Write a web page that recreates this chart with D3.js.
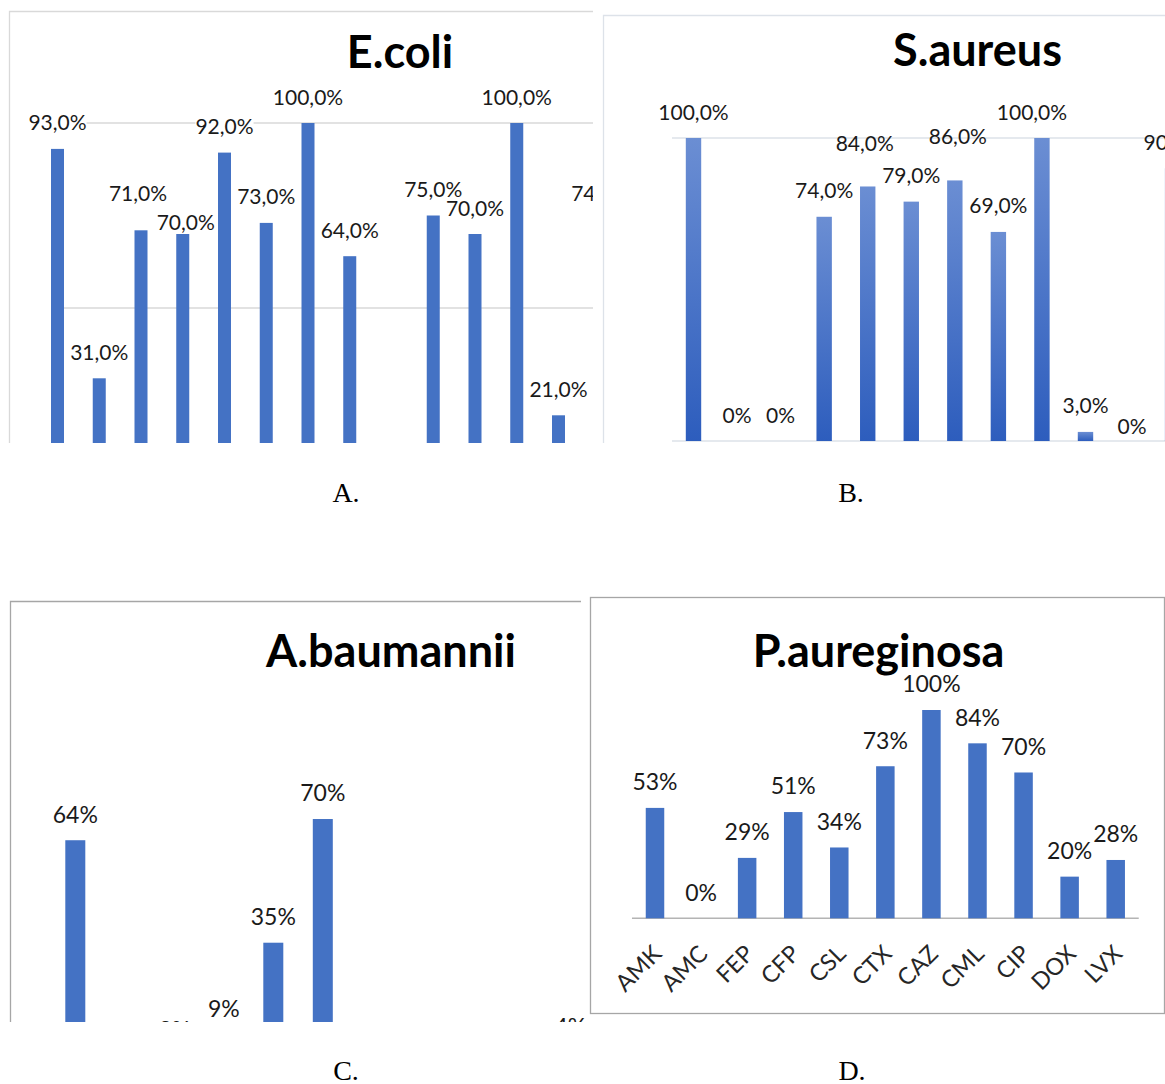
<!DOCTYPE html>
<html><head><meta charset="utf-8">
<script src="https://cdn.jsdelivr.net/npm/d3@7"></script>
<style>body{margin:0;background:#fff} svg{display:block}</style>
</head><body>
<svg id="c" width="1165" height="1084"></svg>
<script>
// ---- data ----
const ecoliCategories = ["c1","c2","c3","c4","c5","c6","c7","c8","c9","c10","c11","c12","c13","c14"];
const ecoliValues = [93,31,71,70,92,73,100,64,null,75,70,100,21,74];
const saureusCategories = ["c1","c2","c3","c4","c5","c6","c7","c8","c9","c10","c11","c12"];
const saureusValues = [100,0,0,74,84,79,86,69,100,3,0,90];
const antibiotics = ["AMK","AMC","FEP","CFP","CSL","CTX","CAZ","CML","CIP","DOX","LVX"];
const abaumanniiValues = [64,0,3,9,35,70,0,0,0,0,4];
const paeruginosaValues = [53,0,29,51,34,73,100,84,70,20,28];
const gridTicksA = [0,50,100];
const gridTicksB = [0,100];
const titles = ["E.coli","S.aureus","A.baumannii","P.aureginosa"];
const panelLetters = ["A.","B.","C.","D."];
// label nudges (layout only): [dx, dy]
const nudgeA = {2:[-3,-11], 3:[3,14]};
const nudgeB = {4:[-3,-17], 6:[3,-18], 8:[-10,0], 10:[3,11]};

const svg = d3.select("#c");
svg.append("rect").attr("width",1165).attr("height",1084).attr("fill","#fff");
const defs = svg.append("defs");
const grad = defs.append("linearGradient").attr("id","gB").attr("x1",0).attr("y1",0).attr("x2",0).attr("y2",1);
grad.append("stop").attr("offset","0%").attr("stop-color","#6b8ed3");
grad.append("stop").attr("offset","100%").attr("stop-color","#2d5dbd");
function clip(id,x,y,w,h){defs.append("clipPath").attr("id",id).append("rect").attr("x",x).attr("y",y).attr("width",w).attr("height",h);}

const FONT = "Lato, 'Open Sans', sans-serif";
const fmtComma = v => v === 0 ? "0%" : v.toFixed(1).replace(".", ",") + "%";
const fmtInt = v => v + "%";

function drawPanel(o){
  const g = svg.append("g");
  if (o.clipId) g.attr("clip-path", `url(#${o.clipId})`);
  if (o.framePath) g.append("path").attr("d", o.framePath).attr("fill","none").attr("stroke",o.frameColor).attr("stroke-width",1.3);
  (o.grid||[]).forEach(t=>{
    g.append("line").attr("x1",o.gridX0).attr("x2",o.gridX1).attr("y1",o.y(t)).attr("y2",o.y(t))
      .attr("stroke",o.gridColor).attr("stroke-width",1.5);
  });
  g.append("text").attr("x",o.titleX).attr("y",o.titleY).attr("text-anchor","middle")
    .attr("font-family",FONT).attr("font-weight",700).attr("font-size",45).attr("fill","#000").text(o.title);
  const data = o.cats.map((c,i)=>({c, v:o.values[i], i})).filter(d=>d.v!==null);
  g.selectAll("rect.bar").data(data.filter(d=>d.v>0)).join("rect").attr("class","bar")
    .attr("x",d=>o.x(d.c)-o.bw/2).attr("width",o.bw)
    .attr("y",d=>o.y(d.v)).attr("height",d=>o.y(0)-o.y(d.v))
    .attr("fill",o.fill);
  data.forEach(d=>{
    const n = (o.nudge && o.nudge[d.i]) || [0,0];
    const cx = o.x(d.c)+n[0], cy = o.y(d.v)-26+n[1];
    let bg;
    if (o.labelBg) bg = g.append("rect").attr("fill","#fff");
    const t = g.append("text").attr("x",cx).attr("y",cy).attr("dy","0.36em").attr("text-anchor","middle")
      .attr("font-family",FONT).attr("font-size",o.fs).attr("fill","#1a1a1a").text(o.fmt(d.v));
    if (bg){const b=t.node().getBBox(); bg.attr("x",b.x).attr("y",b.y+3).attr("width",b.width).attr("height",b.height-5);}
  });
  return g;
}

// Panel A
clip("clipA",0,0,593,443);
const xA = d3.scalePoint().domain(ecoliCategories).range([57.5,600.25]);
const yA = d3.scaleLinear().domain([0,100]).range([493,123]);
drawPanel({clipId:"clipA", framePath:"M9.5,443V11.5H593", frameColor:"#d9d9d9",
  grid:gridTicksA, gridX0:51, gridX1:593, gridColor:"#d9d9d9", y:yA, x:xA,
  title:titles[0], titleX:400, titleY:68, cats:ecoliCategories, values:ecoliValues,
  bw:13, fill:"#4472c4", fs:21, fmt:fmtComma, nudge:nudgeA, labelBg:true});

// Panel B
clip("clipB",595,0,570,443);
const xB = d3.scalePoint().domain(saureusCategories).range([693.5,1172.6]);
const yB = d3.scaleLinear().domain([0,100]).range([441,138]);
drawPanel({clipId:"clipB", framePath:"M603.5,443V15.5H1165", frameColor:"#dde2e9",
  grid:gridTicksB, gridX0:672, gridX1:1165, gridColor:"#dde2e9", y:yB, x:xB,
  title:titles[1], titleX:977.5, titleY:66, cats:saureusCategories, values:saureusValues,
  bw:15.4, fill:"url(#gB)", fs:21, fmt:fmtComma, nudge:nudgeB});

// Panel C
clip("clipC",0,595,585,427);
const xC = d3.scalePoint().domain(antibiotics).range([75.3,570.3]);
const yC = d3.scaleLinear().domain([0,100]).range([1066.4,713]);
drawPanel({clipId:"clipC", framePath:"M10.5,1022V601.5H581", frameColor:"#a6a6a6",
  grid:[], y:yC, x:xC, title:titles[2], titleX:391, titleY:667, cats:antibiotics, values:abaumanniiValues,
  bw:20, fill:"#4472c4", fs:23, fmt:fmtInt});

// Panel D
const xD = d3.scalePoint().domain(antibiotics).range([655,1115.7]);
const yD = d3.scaleLinear().domain([0,100]).range([918.3,710]);
svg.append("rect").attr("x",590.5).attr("y",597.5).attr("width",574).attr("height",416)
  .attr("fill","none").attr("stroke","#a6a6a6").attr("stroke-width",1.3);
const stepD = xD.step();
svg.append("line").attr("x1",xD(antibiotics[0])-stepD/2).attr("x2",xD(antibiotics[antibiotics.length-1])+stepD/2)
  .attr("y1",yD(0)).attr("y2",yD(0)).attr("stroke","#b4b4b4").attr("stroke-width",1.5);
drawPanel({grid:[], y:yD, x:xD, title:titles[3], titleX:878.5, titleY:667, cats:antibiotics,
  values:paeruginosaValues, bw:18.5, fill:"#4472c4", fs:23, fmt:fmtInt});
const axD = svg.append("g").attr("transform",`translate(0,${yD(0)})`).call(d3.axisBottom(xD).tickSize(0));
axD.select(".domain").remove();
axD.selectAll("text").attr("x",7.5).attr("y",37).attr("dy",0).attr("text-anchor","end")
  .attr("transform","rotate(-45,7.5,37)").attr("font-family",FONT).attr("font-size",23.5).attr("fill","#262626");

// panel letters
const letterPos = [[346,502],[851,502],[346,1080],[852,1080]];
panelLetters.forEach((t,i)=>{
  svg.append("text").attr("x",letterPos[i][0]).attr("y",letterPos[i][1]).attr("text-anchor","middle")
    .attr("font-family","'Liberation Serif', 'Times New Roman', serif").attr("font-size",28).attr("fill","#000").text(t);
});
</script>
</body></html>
